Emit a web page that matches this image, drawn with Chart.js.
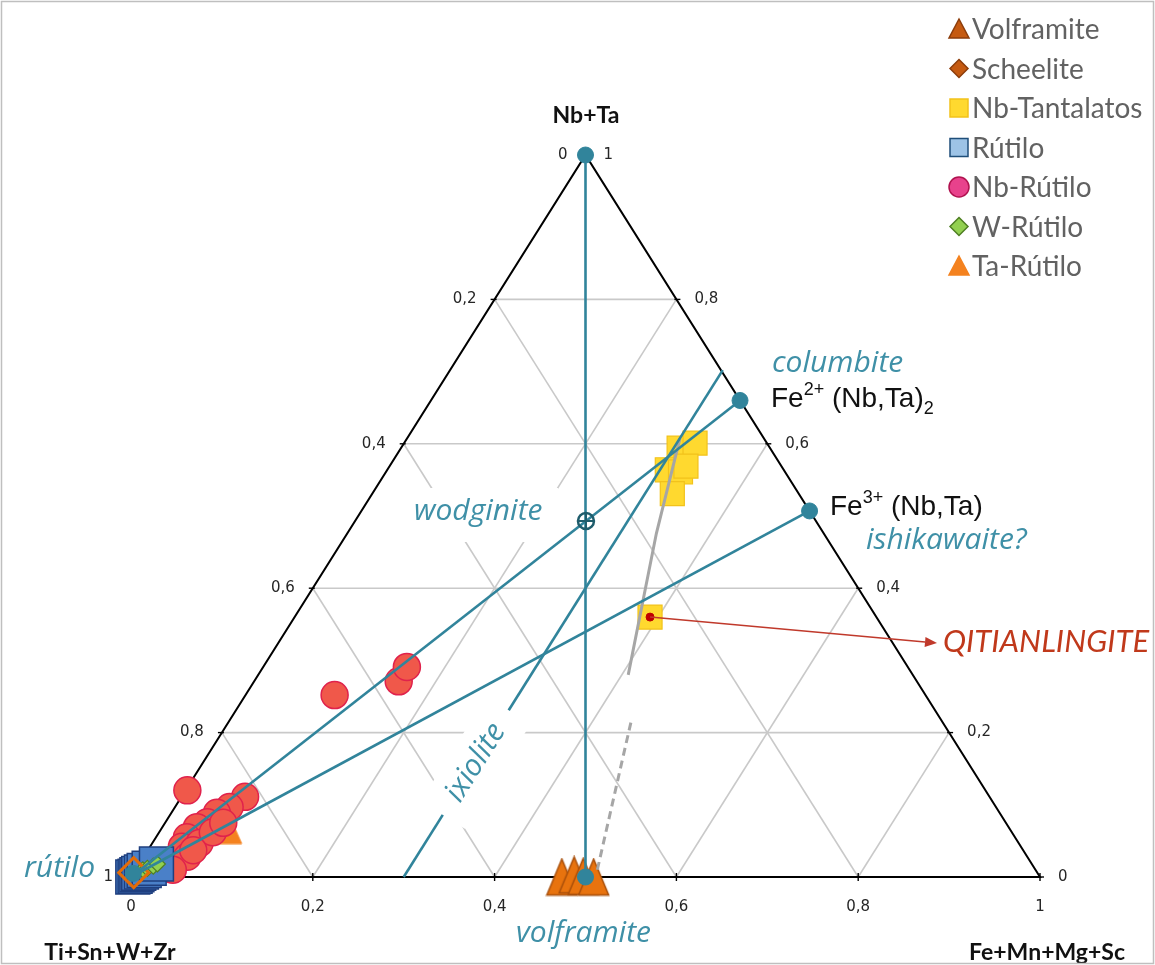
<!DOCTYPE html>
<html lang="es">
<head>
<meta charset="utf-8">
<title>Diagrama ternario Nb+Ta / Ti+Sn+W+Zr / Fe+Mn+Mg+Sc</title>
<script src="https://cdn.jsdelivr.net/npm/chart.js@4.4.1/dist/chart.umd.min.js"></script>
<style>
  html, body { margin: 0; padding: 0; background: #fff; }
  canvas { display: block; }
</style>
</head>
<body>
<canvas id="ternChart" width="1155" height="965"></canvas>
<script>
// compositions as [Nb+Ta, Fe+Mn+Mg+Sc] fractions; Ti+Sn+W+Zr is the remainder
const volframite    = [[0.000, 0.474], [0.003, 0.486], [0.001, 0.497], [0.000, 0.509]];
const scheelite     = [[0.006, 0.000]];
const nbTantalatos  = [[0.594, 0.306], [0.601, 0.320], [0.564, 0.308], [0.561, 0.324], [0.569, 0.326], [0.531, 0.330]];
const qitianlingite = [[0.360, 0.391]];
const rutilo        = [[0.000, 0.002], [0.001, 0.004], [0.003, 0.005], [0.005, 0.006], [0.007, 0.008],
                       [0.009, 0.010], [0.012, 0.014], [0.018, 0.019]];
const nbRutilo      = [[0.252, 0.098], [0.271, 0.159], [0.291, 0.158], [0.120, 0.002], [0.111, 0.070], [0.097, 0.060],
                       [0.089, 0.050], [0.076, 0.046], [0.069, 0.038], [0.055, 0.034], [0.042, 0.035], [0.047, 0.052],
                       [0.062, 0.059], [0.075, 0.064], [0.028, 0.048], [0.010, 0.041], [0.037, 0.050]];
const wRutilo       = [[0.010, 0.008], [0.012, 0.012], [0.015, 0.017], [0.018, 0.020]];
const taRutilo      = [[0.065, 0.076]];

// end members and tie lines
const endMembers    = [[1, 0], [0.66, 0.34], [0.507, 0.493], [0, 0.5], [0.005, 0]];
const wodginite     = [[0.493, 0.254]];
const nbTaAxis      = [[1, 0], [0, 0.5]];
const toColumbite   = [[0, 0], [0.66, 0.34]];
const toFe3         = [[0, 0], [0.507, 0.493]];
const ixioliteLow   = [[0, 0.3], [0.086, 0.3]];
const ixioliteHigh  = [[0.231, 0.3], [0.702, 0.3]];
const grayTrend     = [[0.608, 0.300], [0.476, 0.340], [0.280, 0.407]];
const grayDashed    = [[0.010, 0.508], [0.220, 0.441]];

const gridSteps  = [0.2, 0.4, 0.6, 0.8];
const tickLabels = ['0', '0,2', '0,4', '0,6', '0,8', '1'];

const TEAL = '#31849b';
const TEAL_TEXT = '#3f90a7';

const tern = ([a, c]) => ({ x: c + a / 2, y: a });
const pts = arr => arr.map(tern);

// tall triangle marker, centred on its box like the spreadsheet markers
function triMarker(w, h, fill, stroke, lw) {
  const cv = document.createElement('canvas');
  cv.width = w + lw * 2; cv.height = h + lw * 2;
  const g = cv.getContext('2d');
  g.beginPath();
  g.moveTo(cv.width / 2, lw);
  g.lineTo(cv.width - lw, cv.height - lw);
  g.lineTo(lw, cv.height - lw);
  g.closePath();
  g.fillStyle = fill; g.fill();
  g.lineWidth = lw; g.strokeStyle = stroke; g.stroke();
  return cv;
}

function lineSet(data, color, width, order, dash) {
  return {
    data: pts(data), showLine: true, pointRadius: 0, borderColor: color,
    borderWidth: width, borderDash: dash || [], order, legendShape: null
  };
}

const datasets = [
  { label: 'Volframite', data: pts(volframite), pointStyle: triMarker(30, 36, '#e8730e', '#a84f0b', 1.5),
    order: 5, legendShape: 'tri', legendFill: '#c55a11', legendStroke: '#8c3d0b' },
  { label: 'Scheelite', data: pts(scheelite), pointStyle: 'rectRot', pointRadius: 15,
    backgroundColor: 'rgba(0,0,0,0)', borderColor: '#e36c09', borderWidth: 3,
    order: 2, legendShape: 'diamond', legendFill: '#c55a11', legendStroke: '#8c3d0b' },
  { label: 'Nb-Tantalatos', data: pts(nbTantalatos.concat(qitianlingite)), pointStyle: 'rect', pointRadius: 17,
    backgroundColor: '#ffd92f', borderColor: '#f2c21b', borderWidth: 1.2,
    order: 6, legendShape: 'square', legendFill: '#ffd92f', legendStroke: '#f2c21b' },
  { label: 'Rútilo', data: pts(rutilo), pointStyle: 'rect', pointRadius: 24,
    backgroundColor: '#4a80c8', borderColor: '#1f3f7f', borderWidth: 1.5,
    order: 4, legendShape: 'square', legendFill: '#9dc3e6', legendStroke: '#1f4e79' },
  { label: 'Nb-Rútilo', data: pts(nbRutilo), pointStyle: 'circle', pointRadius: 13.5,
    backgroundColor: '#f0584a', borderColor: '#e0224c', borderWidth: 1.5,
    order: 7, legendShape: 'circle', legendFill: '#e8428c', legendStroke: '#b0124f' },
  { label: 'W-Rútilo', data: pts(wRutilo), pointStyle: 'rectRot', pointRadius: 8,
    backgroundColor: '#92d050', borderColor: '#4f7f23', borderWidth: 1.2,
    order: 3, legendShape: 'diamond', legendFill: '#92d050', legendStroke: '#4f7f23' },
  { label: 'Ta-Rútilo', data: pts(taRutilo), pointStyle: triMarker(24, 27, '#f4821f', '#f4821f', 1),
    order: 8, legendShape: 'tri', legendFill: '#f4821f', legendStroke: '#f4821f' },

  lineSet(nbTaAxis, TEAL, 2.6, 1),
  lineSet(toColumbite, TEAL, 2.6, 1),
  lineSet(toFe3, TEAL, 2.6, 1),
  lineSet(ixioliteLow, TEAL, 2.6, 1),
  lineSet(ixioliteHigh, TEAL, 2.6, 1),
  lineSet(grayTrend, '#a6a6a6', 3, 1),
  lineSet(grayDashed, '#a6a6a6', 3, 1, [8, 5]),

  { data: pts(endMembers), pointStyle: 'circle', pointRadius: 8, backgroundColor: TEAL,
    borderColor: TEAL, borderWidth: 1, order: 0, legendShape: null },
  { data: pts(wodginite), pointStyle: 'circle', pointRadius: 8, backgroundColor: 'rgba(255,255,255,0)',
    borderColor: '#1f5d6c', borderWidth: 2.5, order: 0, legendShape: null },
  { data: pts(wodginite), pointStyle: 'cross', pointRadius: 8, borderColor: '#1f5d6c',
    borderWidth: 2, order: 0, legendShape: null },
  { data: pts(qitianlingite), pointStyle: 'circle', pointRadius: 4, backgroundColor: '#c00000',
    borderColor: '#c00000', borderWidth: 1, order: 0, legendShape: null }
];
datasets.forEach(d => { d.clip = false; });

function pix(chart, a, c) {
  const { x, y } = chart.scales;
  return [x.getPixelForValue(c + a / 2), y.getPixelForValue(a)];
}

function seg(ctx, p, q) {
  ctx.beginPath(); ctx.moveTo(p[0], p[1]); ctx.lineTo(q[0], q[1]); ctx.stroke();
}

// grid, label backgrounds, triangle frame and ticks
const ternaryGrid = {
  id: 'ternaryGrid',
  beforeDatasetsDraw(chart) {
    const ctx = chart.ctx;
    const P = (a, c) => pix(chart, a, c);
    ctx.save();
    ctx.strokeStyle = '#c9c9c9';
    ctx.lineWidth = 1.6;
    gridSteps.forEach(k => {
      seg(ctx, P(k, 0), P(k, 1 - k));
      seg(ctx, P(0, k), P(1 - k, k));
      seg(ctx, P(0, 1 - k), P(1 - k, 0));
    });

    // white panels behind the in-field names
    ctx.fillStyle = '#fff';
    ctx.fillRect(406, 488, 152, 54);
    const lo = P(ixioliteLow[1][0], 0.3), hi = P(ixioliteHigh[0][0], 0.3);
    const ang = Math.atan2(hi[1] - lo[1], hi[0] - lo[0]);
    const len = Math.hypot(hi[0] - lo[0], hi[1] - lo[1]);
    ctx.save();
    ctx.translate((lo[0] + hi[0]) / 2, (lo[1] + hi[1]) / 2);
    ctx.rotate(ang);
    ctx.fillRect(-len / 2, -26, len, 52);
    ctx.restore();

    ctx.strokeStyle = '#000';
    ctx.lineWidth = 2;
    ctx.beginPath();
    const A = P(0, 0), B = P(1, 0), C = P(0, 1);
    ctx.moveTo(A[0], A[1]); ctx.lineTo(B[0], B[1]); ctx.lineTo(C[0], C[1]); ctx.closePath();
    ctx.stroke();

    ctx.lineWidth = 1.4;
    [0, 0.2, 0.4, 0.6, 0.8, 1].forEach(k => {
      const b = P(0, k), l = P(k, 0), r = P(k, 1 - k);
      seg(ctx, [b[0], b[1] - 4], [b[0], b[1] + 4]);
      seg(ctx, [l[0] - 4, l[1]], [l[0] + 2, l[1]]);
      seg(ctx, [r[0] - 2, r[1]], [r[0] + 4, r[1]]);
    });
    ctx.restore();
  }
};

function richText(ctx, parts, x, y) {
  let cx = x;
  parts.forEach(([t, size, dy]) => {
    ctx.font = size + 'px "Liberation Sans", Arial, sans-serif';
    ctx.fillText(t, cx, y + dy);
    cx += ctx.measureText(t).width;
  });
}

function drawMarker(ctx, shape, x, y, fill, stroke) {
  ctx.beginPath();
  if (shape === 'tri') {
    ctx.moveTo(x, y - 10); ctx.lineTo(x + 10, y + 9); ctx.lineTo(x - 10, y + 9); ctx.closePath();
  } else if (shape === 'diamond') {
    ctx.moveTo(x, y - 9); ctx.lineTo(x + 9, y); ctx.lineTo(x, y + 9); ctx.lineTo(x - 9, y); ctx.closePath();
  } else if (shape === 'square') {
    ctx.rect(x - 9, y - 9, 18, 18);
  } else {
    ctx.arc(x, y, 10, 0, Math.PI * 2);
  }
  ctx.fillStyle = fill; ctx.fill();
  ctx.lineWidth = 1.5; ctx.strokeStyle = stroke; ctx.stroke();
}

// labels, annotations and legend
const ternaryText = {
  id: 'ternaryText',
  afterDatasetsDraw(chart) {
    const ctx = chart.ctx;
    const P = (a, c) => pix(chart, a, c);
    ctx.save();

    // arrow to the new mineral name
    const q = P(qitianlingite[0][0], qitianlingite[0][1]);
    const tip = [937, 643];
    ctx.strokeStyle = '#c0392b'; ctx.fillStyle = '#c0392b'; ctx.lineWidth = 1.5;
    const ang = Math.atan2(tip[1] - q[1], tip[0] - q[0]);
    const base = [tip[0] - 12 * Math.cos(ang), tip[1] - 12 * Math.sin(ang)];
    seg(ctx, q, base);
    ctx.beginPath();
    ctx.moveTo(tip[0], tip[1]);
    ctx.lineTo(base[0] + 5 * Math.sin(ang), base[1] - 5 * Math.cos(ang));
    ctx.lineTo(base[0] - 5 * Math.sin(ang), base[1] + 5 * Math.cos(ang));
    ctx.closePath(); ctx.fill();

    // tick labels on the three sides
    ctx.fillStyle = '#262626';
    ctx.font = '15px "DejaVu Sans", sans-serif';
    ctx.textBaseline = 'middle';
    tickLabels.forEach((t, i) => {
      const k = i / 5;
      const b = P(0, k), l = P(k, 0), r = P(k, 1 - k);
      ctx.textAlign = 'center'; ctx.fillText(t, b[0], b[1] + 30);
      ctx.textAlign = 'right'; ctx.fillText(tickLabels[5 - i], l[0] - 18, l[1]);
      ctx.textAlign = 'left'; ctx.fillText(t, r[0] + 18, r[1]);
    });

    // corner titles
    ctx.fillStyle = '#111';
    ctx.font = 'bold 23px Lato, sans-serif';
    ctx.textBaseline = 'alphabetic';
    ctx.textAlign = 'center';
    ctx.fillText('Nb+Ta', 586, 123);
    ctx.fillText('Ti+Sn+W+Zr', 110, 960);
    ctx.fillText('Fe+Mn+Mg+Sc', 1047, 960);

    // mineral names
    ctx.textAlign = 'left';
    ctx.fillStyle = TEAL_TEXT;
    ctx.font = 'italic 30px "Open Sans", sans-serif';
    ctx.fillText('columbite', 772, 372);
    ctx.fillText('ishikawaite?', 866, 549);
    ctx.fillText('wodginite', 414, 520);
    ctx.fillText('rútilo', 24, 877);
    ctx.fillText('volframite', 516, 942);

    const lo = P(ixioliteLow[1][0], 0.3), hi = P(ixioliteHigh[0][0], 0.3);
    ctx.save();
    ctx.translate((lo[0] + hi[0]) / 2, (lo[1] + hi[1]) / 2);
    ctx.rotate(Math.atan2(hi[1] - lo[1], hi[0] - lo[0]));
    ctx.textAlign = 'center'; ctx.textBaseline = 'middle';
    ctx.fillText('ixiolite', 0, 0);
    ctx.restore();

    ctx.fillStyle = '#111';
    richText(ctx, [['Fe', 28, 0], ['2+', 18, -12], [' (Nb,Ta)', 28, 0], ['2', 18, 7]], 771, 407);
    richText(ctx, [['Fe', 28, 0], ['3+', 18, -12], [' (Nb,Ta)', 28, 0]], 830, 515);

    ctx.fillStyle = '#c0391b';
    ctx.font = 'italic 31px Lato, sans-serif';
    ctx.fillText('QITIANLINGITE', 943, 652);

    // legend
    ctx.font = '28px Lato, sans-serif';
    ctx.textBaseline = 'middle';
    let row = 0;
    chart.data.datasets.forEach(d => {
      if (!d.legendShape) return;
      const y = 29 + row * 39.5;
      drawMarker(ctx, d.legendShape, 959, y, d.legendFill, d.legendStroke);
      ctx.fillStyle = '#626262';
      ctx.fillText(d.label, 972, y + 1);
      row++;
    });

    // outer frame
    ctx.strokeStyle = '#bfbfbf'; ctx.lineWidth = 1.5;
    ctx.strokeRect(1.5, 1.5, chart.width - 3, chart.height - 3);
    ctx.restore();
  }
};

new Chart(document.getElementById('ternChart'), {
  type: 'scatter',
  data: { datasets },
  options: {
    responsive: false,
    animation: false,
    layout: { padding: { left: 131, right: 115, top: 155, bottom: 88 } },
    scales: {
      x: { type: 'linear', min: 0, max: 1, display: false },
      y: { type: 'linear', min: 0, max: 1, display: false }
    },
    plugins: { legend: { display: false }, tooltip: { enabled: false } }
  },
  plugins: [ternaryGrid, ternaryText]
});
</script>
</body>
</html>
